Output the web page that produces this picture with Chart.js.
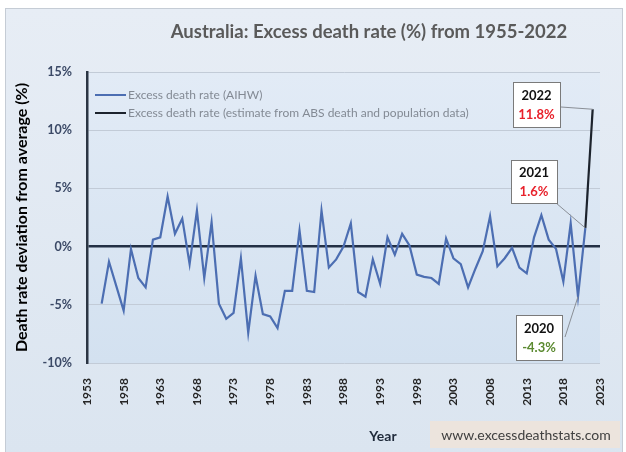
<!DOCTYPE html>
<html>
<head>
<meta charset="utf-8">
<script src="https://cdn.jsdelivr.net/npm/chart.js@4.4.0/dist/chart.umd.min.js"></script>
<style>
  html, body { margin: 0; padding: 0; background: #fff; }
  #frame {
    position: absolute; left: 5px; top: 8px; width: 618px; height: 446px;
    box-sizing: border-box; border: 1px solid #c5ccd5;
    background: linear-gradient(#e7edf5, #dbe5f0);
  }
  #wrap { position: absolute; left: 0; top: 0; width: 626px; height: 452px; }
</style>
</head>
<body>
<div id="frame"></div>
<div id="wrap"><canvas id="chart" width="626" height="452"></canvas></div>
<script>
// AIHW series, 1955-2021 (% deviation from average)
const years = [
  1955, 1956, 1957, 1958, 1959, 1960, 1961, 1962, 1963, 1964,
  1965, 1966, 1967, 1968, 1969, 1970, 1971, 1972, 1973, 1974,
  1975, 1976, 1977, 1978, 1979, 1980, 1981, 1982, 1983, 1984,
  1985, 1986, 1987, 1988, 1989, 1990, 1991, 1992, 1993, 1994,
  1995, 1996, 1997, 1998, 1999, 2000, 2001, 2002, 2003, 2004,
  2005, 2006, 2007, 2008, 2009, 2010, 2011, 2012, 2013, 2014,
  2015, 2016, 2017, 2018, 2019, 2020, 2021
];
const aihwRates = [
  -4.9, -1.3, -3.4, -5.5, -0.2, -2.7, -3.5, 0.6, 0.8, 4.3,
  1.1, 2.4, -1.5, 3.1, -2.7, 2.1, -4.9, -6.2, -5.7, -1.0,
  -7.4, -2.5, -5.8, -6.0, -7.0, -3.8, -3.8, 1.4, -3.8, -3.9,
  3.1, -1.8, -1.1, 0.0, 2.0, -3.9, -4.3, -1.1, -3.2, 0.8,
  -0.7, 1.1, 0.1, -2.4, -2.6, -2.7, -3.2, 0.7, -1.0, -1.5,
  -3.5, -1.9, -0.4, 2.6, -1.7, -1.0, -0.1, -1.8, -2.3, 0.8,
  2.7, 0.6, -0.2, -3.0, 2.0, -4.3, 1.6
];

// ABS estimate
const absYears = [2021, 2022];
const absRates = [1.6, 11.8];

// labelled points
const calloutYears = [2022, 2021, 2020];
const calloutRates = [11.8, 1.6, -4.3];

const xTickYears = [1953, 1958, 1963, 1968, 1973, 1978, 1983, 1988, 1993, 1998, 2003, 2008, 2013, 2018, 2023];
const yTickValues = [-10, -5, 0, 5, 10, 15];

const FONT = "Lato, 'Open Sans', sans-serif";

// boxes for the labelled points: left, top, width, height, value colour, leader start
const calloutBoxes = {
  2022: { x: 513, y: 82, w: 47, h: 45, color: '#e8212b', from: [561, 107] },
  2021: { x: 511, y: 160, w: 46, h: 43, color: '#e8212b', from: [556, 203] },
  2020: { x: 516, y: 315, w: 46, h: 45, color: '#5b8a30', from: [565, 337] }
};

const decor = {
  id: 'decor',
  beforeDraw(chart) {
    const { ctx, chartArea: a } = chart;
    const g = ctx.createLinearGradient(0, a.top, 0, a.bottom);
    g.addColorStop(0, '#e2ebf6');
    g.addColorStop(1, '#d3e1f0');
    ctx.save();
    ctx.fillStyle = g;
    ctx.fillRect(a.left, a.top, a.right - a.left, a.bottom - a.top);
    ctx.restore();
  },
  afterDatasetsDraw(chart) {
    const { ctx } = chart;
    const xs = chart.scales.x, ys = chart.scales.y;
    ctx.save();

    // legend
    ctx.font = '12px ' + FONT;
    ctx.textBaseline = 'middle';
    ctx.textAlign = 'left';
    chart.data.datasets.forEach((ds, i) => {
      const y = 95 + i * 18;
      ctx.strokeStyle = ds.borderColor;
      ctx.lineWidth = 2;
      ctx.beginPath();
      ctx.moveTo(95, y);
      ctx.lineTo(126, y);
      ctx.stroke();
      ctx.fillStyle = '#838a94';
      ctx.fillText(ds.label, 128, y);
    });

    // callouts
    calloutYears.forEach((yr, i) => {
      const b = calloutBoxes[yr];
      const v = calloutRates[i];
      const px = xs.getPixelForValue(yr), py = ys.getPixelForValue(v);
      ctx.strokeStyle = '#8a8f96';
      ctx.lineWidth = 1;
      ctx.beginPath();
      ctx.moveTo(b.from[0], b.from[1]);
      ctx.lineTo(px, py);
      ctx.stroke();
      ctx.fillStyle = '#ffffff';
      ctx.fillRect(b.x, b.y, b.w, b.h);
      ctx.strokeStyle = '#7a7a7a';
      ctx.strokeRect(b.x + 0.5, b.y + 0.5, b.w, b.h);
      ctx.textAlign = 'center';
      ctx.font = 'bold 13px ' + FONT;
      ctx.fillStyle = '#111';
      ctx.fillText(String(yr), b.x + b.w / 2, b.y + b.h * 0.3);
      ctx.fillStyle = b.color;
      ctx.fillText(v.toFixed(1) + '%', b.x + b.w / 2, b.y + b.h * 0.74);
    });
    ctx.restore();
  },
  afterDraw(chart) {
    const { ctx } = chart;
    ctx.save();
    ctx.textBaseline = 'middle';
    ctx.textAlign = 'center';
    ctx.font = 'bold 18.5px ' + FONT;
    ctx.fillStyle = '#5a5a5a';
    ctx.fillText('Australia: Excess death rate (%) from 1955-2022', 369, 32);

    ctx.font = 'bold 14px ' + FONT;
    ctx.fillStyle = '#1f2a3a';
    ctx.fillText('Year', 383, 436);

    ctx.fillStyle = '#ece4dd';
    ctx.fillRect(430, 421, 190, 27);
    ctx.font = '14px ' + FONT;
    ctx.fillStyle = '#404040';
    ctx.fillText('www.excessdeathstats.com', 526, 435);
    ctx.restore();
  }
};

new Chart(document.getElementById('chart'), {
  type: 'line',
  data: {
    datasets: [
      {
        label: 'Excess death rate (AIHW)',
        data: years.map((yr, i) => ({ x: yr, y: aihwRates[i] })),
        borderColor: '#4c6eb2',
        borderWidth: 2.2,
        pointRadius: 0,
        tension: 0
      },
      {
        label: 'Excess death rate (estimate from ABS death and population data)',
        data: absYears.map((yr, i) => ({ x: yr, y: absRates[i] })),
        borderColor: '#1c232d',
        borderWidth: 2.2,
        pointRadius: 0,
        tension: 0
      }
    ]
  },
  options: {
    responsive: false,
    animation: false,
    layout: { padding: { left: 0, top: 72, right: 26, bottom: 0 } },
    plugins: { legend: { display: false }, tooltip: { enabled: false } },
    scales: {
      x: {
        type: 'linear',
        min: 1953,
        max: 2023,
        afterBuildTicks: s => { s.ticks = xTickYears.map(v => ({ value: v })); },
        afterFit: s => { s.height = 89; },
        grid: { display: false },
        border: { display: false },
        ticks: {
          autoSkip: false,
          minRotation: 90,
          maxRotation: 90,
          padding: 7,
          color: '#262626',
          font: { family: FONT, size: 12, weight: 'bold' },
          callback: v => String(v)
        }
      },
      y: {
        min: -10,
        max: 15,
        afterBuildTicks: s => { s.ticks = yTickValues.map(v => ({ value: v })); },
        afterFit: s => { s.width = 87; },
        grid: {
          drawTicks: false,
          color: c => c.tick.value === 0 ? '#233045' : '#c2cbd7',
          lineWidth: c => c.tick.value === 0 ? 2.5 : 1
        },
        border: { color: '#2b3543', width: 2.5 },
        ticks: {
          padding: 15,
          color: '#3b4966',
          font: { family: FONT, size: 12.5, weight: 'bold' },
          callback: v => v + '%'
        },
        title: {
          display: true,
          text: 'Death rate deviation from average (%)',
          color: '#000',
          font: { family: FONT, size: 16, weight: 'bold' },
          padding: { top: 12, bottom: 0 }
        }
      }
    }
  },
  plugins: [decor]
});
</script>
</body>
</html>
